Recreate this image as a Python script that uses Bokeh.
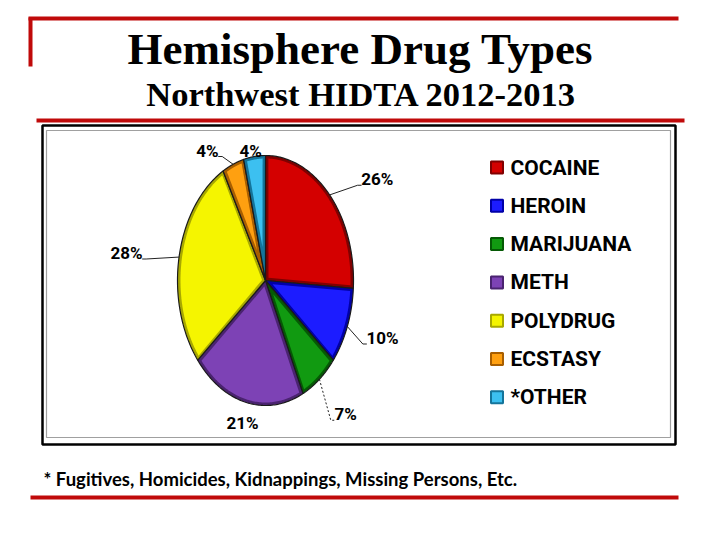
import numpy as np
from bokeh.plotting import figure
from bokeh.models import Range1d
from bokeh.core.properties import value
from bokeh.embed import file_html
from bokeh.resources import INLINE

# ---------------- data ----------------
categories = ["COCAINE", "HEROIN", "MARIJUANA", "METH", "POLYDRUG", "ECSTASY", "*OTHER"]
percent = [26, 10, 7, 21, 28, 4, 4]
pct_labels = ["26%", "10%", "7%", "21%", "28%", "4%", "4%"]
title_text = "Hemisphere Drug Types"
subtitle_text = "Northwest HIDTA 2012-2013"
footnote_text = "* Fugitives, Homicides, Kidnappings, Missing Persons, Etc."

# ---------------- styles ----------------
main_colors = ["#d40000", "#1c1cff", "#119a11", "#7d42b5", "#f5f500", "#ffa010", "#3cc0f0"]
dark_colors = ["#800000", "#0000a8", "#055a05", "#4a2370", "#a8a800", "#a85e00", "#14749a"]
RED = "#c00a0a"
LABEL_FONT = value("Roboto")

# label placement (relative to the pie radii) and leader styles
label_pos = [(1.27, -0.81), (1.33, 0.46), (0.91, 1.07), (-0.26, 1.14),
             (-1.58, -0.22), (-0.66, -1.04), (-0.17, -1.04)]
leader_dash = ["solid", "solid", "2 2", None, "solid", "solid", None]

# ---------------- figure ----------------
p = figure(width=704, height=524, x_range=Range1d(0, 704), y_range=Range1d(524, 0),
           output_backend="svg", toolbar_location=None, min_border=0,
           x_axis_location=None, y_axis_location=None)
p.grid.visible = False
p.outline_line_color = None
p.background_fill_color = "white"
p.border_fill_color = "white"

# slide decoration
p.segment(x0=[28, 30, 36, 30], y0=[18, 17, 120, 497], x1=[678, 30, 684, 678], y1=[18, 66, 120, 497],
          line_color=RED, line_width=4)
p.quad(left=[42], right=[675], top=[125], bottom=[444], fill_color=None,
       line_color="black", line_width=2.5)
p.quad(left=[46], right=[670], top=[130], bottom=[437], fill_color=None,
       line_color="#a0a0a0", line_width=1.2)

# titles
p.text(x=[360], y=[48], text=[title_text], text_font=value("Liberation Serif"),
       text_font_style="bold", text_font_size="45px", text_align="center",
       text_baseline="middle", text_color="black")
p.text(x=[361], y=[93], text=[subtitle_text], text_font=value("Liberation Serif"),
       text_font_style="bold", text_font_size="34.5px", text_align="center",
       text_baseline="middle", text_color="black")
p.text(x=[43], y=[478], text=[footnote_text], text_font=value("Lato"),
       text_font_style="bold", text_font_size="18.5px", text_align="left",
       text_baseline="middle", text_color="black")

# ---------------- pie ----------------
cx, cy, a, b = 265.0, 280.0, 88.0, 125.0
inset = 3.0
total = float(sum(percent))
edges = np.concatenate([[0.0], np.cumsum(percent)]) / total * 2 * np.pi


def rim(t, ra, rb):
    return cx + ra * np.sin(t), cy - rb * np.cos(t)


outer_xs, outer_ys, inner_xs, inner_ys = [], [], [], []
for i in range(len(percent)):
    t0, t1 = edges[i], edges[i + 1]
    ts = np.linspace(t0, t1, 80)
    x, y = rim(ts, a, b)
    outer_xs.append([cx] + list(x))
    outer_ys.append([cy] + list(y))
    # inset polygon for a bevelled look
    e0 = np.array(rim(t0, a, b)) - [cx, cy]
    e1 = np.array(rim(t1, a, b)) - [cx, cy]
    tm = 0.5 * (t0 + t1)
    m = np.array(rim(tm, a, b)) - [cx, cy]
    e0 /= np.linalg.norm(e0)
    e1 /= np.linalg.norm(e1)
    n0 = np.array([-e0[1], e0[0]])
    n1 = np.array([-e1[1], e1[0]])
    if n0 @ m < 0:
        n0 = -n0
    if n1 @ m < 0:
        n1 = -n1
    apex = np.linalg.solve(np.vstack([n0, n1]), [inset, inset]) + [cx, cy]
    sp0 = np.hypot(a * np.cos(t0), b * np.sin(t0))
    sp1 = np.hypot(a * np.cos(t1), b * np.sin(t1))
    ts2 = np.linspace(t0 + inset / sp0, t1 - inset / sp1, 80)
    x2, y2 = rim(ts2, a - inset, b - inset)
    inner_xs.append([apex[0]] + list(x2))
    inner_ys.append([apex[1]] + list(y2))

p.patches(xs=outer_xs, ys=outer_ys, fill_color=dark_colors, line_color="#1a1a1a", line_width=1.2)
p.patches(xs=inner_xs, ys=inner_ys, fill_color=main_colors, line_color=None)

# labels + leaders
lab_x, lab_y = [], []
for i, (ux, uy) in enumerate(label_pos):
    lx, ly = cx + ux * a, cy + uy * b
    lab_x.append(lx)
    lab_y.append(ly)
    if leader_dash[i] is None:
        continue
    tm = 0.5 * (edges[i] + edges[i + 1])
    sx, sy = rim(tm, a, b)
    sgn = 1 if lx > cx else -1
    hw = 4.9 * len(pct_labels[i])
    ex, ey = lx - sgn * (hw + 1), ly + 6
    p.line(x=[sx, ex - sgn * 4, ex], y=[sy, ey, ey], line_color="#222222",
           line_width=1, line_dash=leader_dash[i])

p.text(x=lab_x, y=lab_y, text=pct_labels, text_font=LABEL_FONT, text_font_style="bold",
       text_font_size="17px", text_align="center", text_baseline="middle", text_color="black")

# ---------------- legend ----------------
leg_y = [167 + 38.3 * i for i in range(len(categories))]
p.rect(x=[496.5] * len(categories), y=leg_y, width=12, height=12,
       width_units="screen", height_units="screen",
       fill_color=main_colors, line_color=dark_colors, line_width=2)
p.text(x=[510] * len(categories), y=leg_y, text=categories, text_font=LABEL_FONT,
       text_font_style="bold", text_font_size="21px", text_align="left",
       text_baseline="middle", text_color="black")

open("out.html", "w").write(file_html(p, INLINE))
